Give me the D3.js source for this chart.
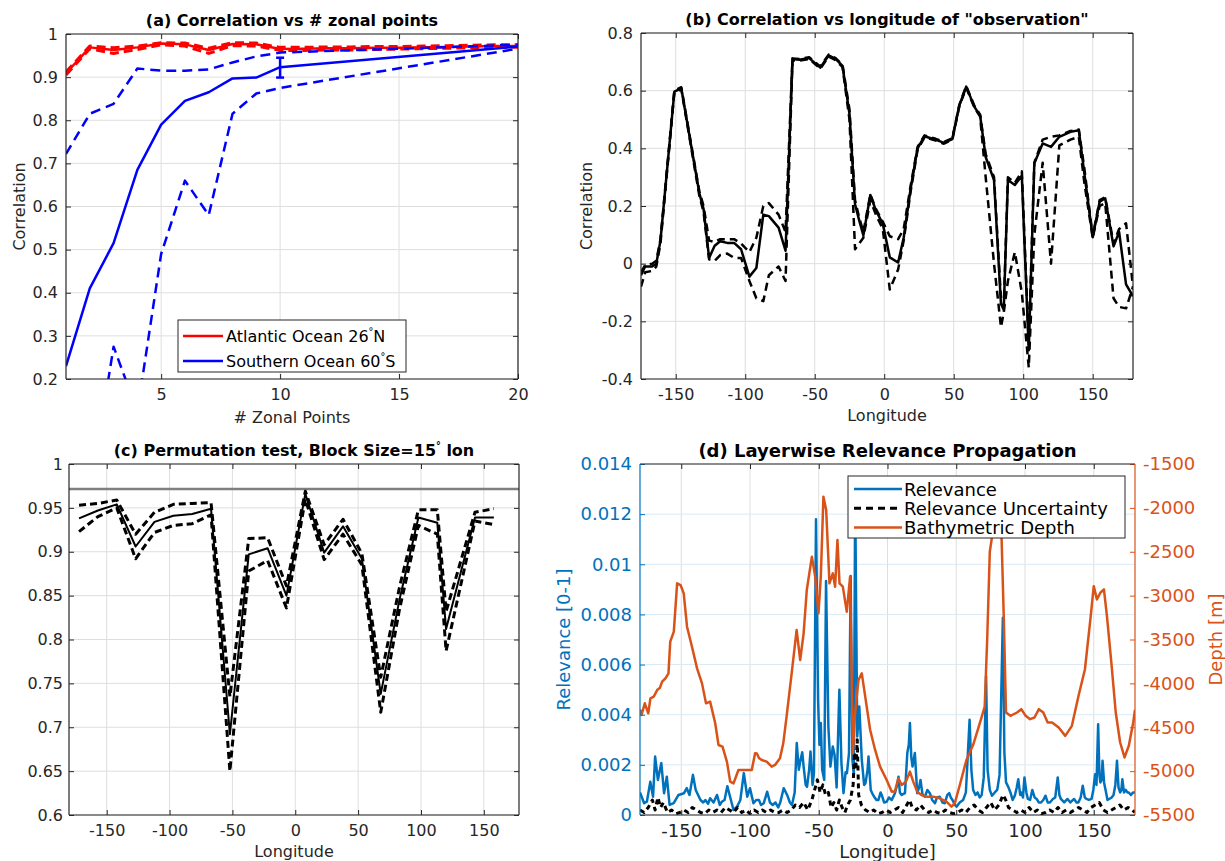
<!DOCTYPE html>
<html>
<head>
<meta charset="utf-8">
<title>Correlation and relevance panels</title>
<script src="https://cdn.jsdelivr.net/npm/d3@7/dist/d3.min.js"></script>
<style>
  body { margin: 0; background: #fff; }
  text { font-family: "DejaVu Sans", sans-serif; }
</style>
</head>
<body>
<div id="fig"></div>
<script>
// ---------- (a) correlation vs number of zonal points ----------
var zonalX = [1, 2, 3, 4, 5, 6, 7, 8, 9, 10, 11, 12, 13, 14, 15, 16, 17, 18, 19, 20];
var atlMean = [0.909, 0.969, 0.963, 0.969, 0.978, 0.976, 0.963, 0.977, 0.976, 0.965, 0.966, 0.967, 0.967, 0.968, 0.968, 0.969, 0.970, 0.971, 0.972, 0.972];
var atlHi   = [0.912, 0.972, 0.968, 0.972, 0.980, 0.979, 0.967, 0.980, 0.979, 0.969, 0.969, 0.970, 0.970, 0.971, 0.971, 0.972, 0.973, 0.974, 0.975, 0.975];
var atlLo   = [0.905, 0.966, 0.955, 0.964, 0.975, 0.972, 0.955, 0.973, 0.972, 0.962, 0.962, 0.963, 0.963, 0.964, 0.965, 0.966, 0.967, 0.968, 0.969, 0.969];
var soX    = [1, 2, 3, 4, 5, 6, 7, 8, 9, 10, 20];
var soMean = [0.23, 0.41, 0.515, 0.685, 0.79, 0.845, 0.865, 0.897, 0.899, 0.923, 0.971];
var soHi   = [0.722, 0.815, 0.838, 0.92, 0.915, 0.915, 0.918, 0.934, 0.948, 0.957, 0.975];
var soLo   = [-0.2, -0.07, 0.275, 0.125, 0.49, 0.66, 0.58, 0.815, 0.862, 0.875, 0.966];
var soErrX = [10], soErrLo = [0.899], soErrHi = [0.945];
var xTicksA = [5, 10, 15, 20];
var yTicksA = [0.2, 0.3, 0.4, 0.5, 0.6, 0.7, 0.8, 0.9, 1];

// ---------- (b) correlation vs longitude of observation ----------
var lonB = [-175, -172, -167, -164, -161, -151, -146, -133, -130, -126,
            -122, -118, -113, -108, -103, -97, -92, -87, -83, -76,
            -71, -66, -61, -54, -46, -40, -35, -30, -25, -21,
            -18, -15, -10, -6, -1, 4, 10, 14, 19, 24,
            29, 37, 43, 49, 54, 59, 65, 69, 73, 79,
            84, 86, 89, 94, 99, 104, 108, 114, 120, 126,
            134, 140, 144, 150, 155, 159, 165, 169, 174, 179];
var corrB = [-0.04, -0.01, -0.01, 0.0, 0.08, 0.597, 0.608, 0.244, 0.19, 0.02,
             0.062, 0.078, 0.072, 0.072, 0.05, -0.045, -0.015, 0.17, 0.165, 0.125,
             0.045, 0.71, 0.707, 0.713, 0.68, 0.722, 0.71, 0.686, 0.52, 0.206,
             0.15, 0.098, 0.238, 0.185, 0.138, 0.022, 0.004, 0.09, 0.26, 0.4,
             0.442, 0.43, 0.419, 0.432, 0.548, 0.614, 0.543, 0.514, 0.37, 0.29,
             -0.14, -0.16, 0.29, 0.273, 0.305, -0.3, 0.348, 0.417, 0.405, 0.44,
             0.457, 0.463, 0.313, 0.092, 0.215, 0.227, 0.06, 0.11, -0.072, -0.113];
var corrBHi = [-0.03, -0.005, 0.0, 0.01, 0.085, 0.6, 0.612, 0.25, 0.2, 0.08,
               0.075, 0.085, 0.085, 0.085, 0.07, 0.04, 0.09, 0.2, 0.21, 0.17,
               0.11, 0.712, 0.71, 0.716, 0.684, 0.725, 0.713, 0.69, 0.535, 0.22,
               0.16, 0.11, 0.24, 0.19, 0.145, 0.095, 0.085, 0.12, 0.27, 0.405,
               0.445, 0.433, 0.422, 0.435, 0.55, 0.616, 0.546, 0.517, 0.38, 0.3,
               -0.12, -0.15, 0.3, 0.28, 0.32, -0.28, 0.35, 0.43, 0.44, 0.445,
               0.46, 0.465, 0.33, 0.095, 0.22, 0.23, 0.07, 0.12, 0.14, -0.08];
var corrBLo = [-0.08, -0.03, -0.025, -0.01, 0.07, 0.595, 0.605, 0.235, 0.18, 0.015,
               0.01, 0.03, 0.035, 0.02, 0.02, -0.06, -0.12, -0.13, -0.04, -0.01,
               -0.06, 0.705, 0.704, 0.71, 0.676, 0.718, 0.706, 0.682, 0.5, 0.05,
               0.07, 0.09, 0.22, 0.17, 0.12, -0.09, -0.02, 0.08, 0.25, 0.395,
               0.438, 0.427, 0.416, 0.43, 0.545, 0.61, 0.54, 0.51, 0.3, 0.0,
               -0.22, -0.17, -0.06, 0.04, -0.1, -0.36, 0.1, 0.35, 0.0, 0.41,
               0.43, 0.44, 0.28, 0.09, 0.2, 0.21, -0.12, -0.15, -0.155, -0.08];
var lonTicks = [-150, -100, -50, 0, 50, 100, 150];
var yTicksB = [-0.4, -0.2, 0, 0.2, 0.4, 0.6, 0.8];

// ---------- (c) permutation test ----------
var lonC = [-172, -157, -142, -127, -112, -97, -82, -67, -52, -37, -22, -7, 8, 23, 38, 53, 68, 83, 98, 113, 120, 143, 158];
var permMean = [0.938, 0.947, 0.954, 0.906, 0.934, 0.941, 0.943, 0.949, 0.692, 0.897, 0.904, 0.85, 0.966, 0.899, 0.929, 0.892, 0.738, 0.846, 0.939, 0.933, 0.812, 0.939, 0.939];
var permHi   = [0.953, 0.955, 0.959, 0.92, 0.945, 0.954, 0.955, 0.956, 0.735, 0.915, 0.916, 0.861, 0.969, 0.908, 0.937, 0.898, 0.757, 0.86, 0.948, 0.948, 0.832, 0.945, 0.949];
var permLo   = [0.923, 0.94, 0.95, 0.892, 0.922, 0.93, 0.932, 0.942, 0.65, 0.878, 0.89, 0.836, 0.96, 0.891, 0.92, 0.885, 0.717, 0.835, 0.93, 0.92, 0.787, 0.935, 0.931];
var permRef = 0.9715;
var yTicksC = [0.6, 0.65, 0.7, 0.75, 0.8, 0.85, 0.9, 0.95, 1];

// ---------- (d) layerwise relevance propagation ----------
var relLon = [-180, -177, -175, -172.5, -170.5, -169, -167, -164.5, -162.5, -160.5,
  -158.5, -155.5, -152, -148, -146, -144, -141.5, -139.5, -136, -134,
  -132.5, -130.5, -129, -126.5, -124, -122, -120.5, -118.5, -116.5, -114.5,
  -112, -109.5, -107, -104.5, -102, -100, -97.5, -95.5, -93.5, -92,
  -90, -87.5, -85.5, -83.5, -81.5, -79.5, -78, -75.5, -73, -71,
  -69.5, -67.5, -66, -64.5, -63.5, -62, -61, -59.5, -58.5, -57,
  -56, -54.5, -53.5, -52, -50.5, -49.5, -48.5, -47.5, -46, -44.7,
  -43, -41.5, -39.8, -38.5, -37, -35, -33.5, -32, -30.5, -29.5,
  -28, -26.8, -25.5, -24.5, -23.5, -22, -20.5, -18.7, -17, -16,
  -14.5, -13.8, -12.2, -10.5, -9.7, -8, -6.6, -5, -4.2, -2.5,
  -0.6, 1, 3.1, 5.4, 7, 8, 9, 10.3, 12.7, 14.4,
  15.5, 16.3, 17.3, 18.2, 19.9, 21.6, 23, 24, 25.5, 27.2,
  29, 30.8, 32.5, 34.5, 36, 38, 40, 41.7, 43.5, 44.9,
  46, 47.3, 49, 50.2, 52.5, 55, 57, 58.5, 59.7, 61,
  62.3, 64, 65.5, 67.1, 68.5, 70, 71.7, 72.8, 74.4, 76,
  78, 79.8, 81.5, 83.9, 85, 86.2, 88, 89.4, 91, 92.6,
  94, 95.1, 96.5, 97.3, 98.5, 99.6, 101, 102.1, 103.7, 105.3,
  107, 108.5, 110, 111.7, 113.3, 114.9, 116.5, 118.1, 120.3, 122,
  123.8, 125, 126.1, 128.5, 130.9, 133, 135.7, 137.5, 138.8, 140.5,
  142, 143.5, 144.6, 146.5, 148.4, 149.7, 151, 152, 153.2, 154.1,
  154.8, 155.7, 156.4, 157.5, 158.6, 160, 161.2, 163, 164.4, 165.7,
  166.9, 168, 169.2, 170.1, 170.8, 172, 173.3, 174.5, 175.5, 177,
  178.7, 180];
var relVal = [0.0009, 0.00047, 0.00053, 0.00133, 0.00073, 0.00233, 0.0014, 0.00207, 0.00087, 0.00153,
  0.0004, 0.00047, 0.0008, 0.00087, 0.00107, 0.0008, 0.0016, 0.001, 0.0006, 0.0005,
  0.0006, 0.00045, 0.00067, 0.0005, 0.0008, 0.0004, 0.00053, 0.0006, 0.00115, 0.00073,
  0.0002, 0.00033, 0.0006, 0.00167, 0.00073, 0.00107, 0.00047, 0.0006, 0.0006, 0.0004,
  0.00047, 0.00093, 0.0005, 0.0004, 0.0005, 0.0003, 0.0005, 0.00107, 0.0008, 0.0005,
  0.0004, 0.0009, 0.00287, 0.0018, 0.00213, 0.0025, 0.00193, 0.0012, 0.00113, 0.0018,
  0.00253, 0.0012, 0.00167, 0.0118, 0.0046, 0.0028, 0.00367, 0.0018, 0.0014, 0.00933,
  0.00353, 0.00193, 0.00273, 0.0024, 0.0011, 0.005, 0.00207, 0.00087, 0.0017, 0.00167,
  0.00247, 0.00953, 0.0022, 0.0016, 0.0127, 0.00313, 0.00433, 0.0022, 0.0012, 0.00127,
  0.0018, 0.00233, 0.001, 0.0008, 0.00073, 0.0006, 0.0006, 0.0009, 0.0008, 0.0005,
  0.00053, 0.0007, 0.0006, 0.00087, 0.0012, 0.00153, 0.0009, 0.0008, 0.00087, 0.00247,
  0.0028, 0.00367, 0.0023, 0.00193, 0.00247, 0.00087, 0.0011, 0.0014, 0.0008, 0.00073,
  0.001, 0.00087, 0.0006, 0.00047, 0.0007, 0.00073, 0.0005, 0.00047, 0.0008, 0.00087,
  0.0007, 0.0006, 0.0004, 0.00033, 0.0005, 0.0006, 0.0009, 0.0025, 0.0038, 0.0018,
  0.001, 0.0008, 0.0009, 0.0007, 0.0008, 0.0015, 0.00553, 0.0018, 0.001, 0.00077,
  0.0009, 0.001, 0.0016, 0.00787, 0.0025, 0.0013, 0.0011, 0.0009, 0.0006, 0.00077,
  0.0011, 0.00143, 0.0008, 0.0009, 0.0007, 0.0015, 0.0009, 0.00064, 0.0006, 0.001,
  0.0007, 0.00064, 0.0005, 0.0005, 0.0006, 0.00077, 0.0005, 0.0005, 0.00064, 0.0007,
  0.0015, 0.0008, 0.00064, 0.0005, 0.00064, 0.0005, 0.00064, 0.0005, 0.0005, 0.0007,
  0.00117, 0.0007, 0.00064, 0.0006, 0.00064, 0.001, 0.00163, 0.0012, 0.00362, 0.0016,
  0.0013, 0.0014, 0.00216, 0.0013, 0.001, 0.0006, 0.00064, 0.0007, 0.0008, 0.0012,
  0.00216, 0.0011, 0.0009, 0.001, 0.00143, 0.0009, 0.001, 0.0009, 0.0009, 0.0008,
  0.0009, 0.0009];
var uncLon = [-180, -177, -174, -171, -169, -167, -165, -163, -160, -157, -154, -151, -148, -145, -142,
  -139, -136, -133, -130, -127, -124, -121, -118, -115, -112, -109, -106, -103, -100, -97,
  -94, -91, -88, -85, -82, -79, -76, -73, -70, -67, -64, -61, -58, -55, -53,
  -51, -49, -47, -45, -43, -41, -39, -37, -35, -33, -31, -29, -27, -25, -24,
  -23, -22, -21, -19, -16, -13, -10, -7, -4, -1, 2, 5, 8, 11, 14,
  16, 18, 21, 24, 27, 30, 33, 36, 39, 42, 45, 48, 51, 54, 57,
  60, 63, 66, 69, 72, 75, 78, 81, 84, 86, 88, 91, 94, 97, 100,
  103, 106, 109, 112, 115, 118, 121, 124, 127, 130, 133, 136, 139, 142, 145,
  148, 151, 154, 157, 160, 163, 166, 169, 172, 175, 178, 180];
var uncVal = [0.0002, 0.0001, 0.0003, 0.0006, 0.0002, 0.0007, 0.0003, 0.0005, 0.0001, 0.0002, 0.00005, 0.0001, 0.0002, 0.0001, 0.0003,
  0.0002, 0.0001, 0.00005, 0.0002, 0.0001, 0.0002, 0.0001, 0.0003, 0.0002, 0.0001, 0.0003, 0.0001, 0.0002, 0.00005, 0.0002,
  0.0001, 0.0002, 0.0001, 0.0002, 0.0001, 0.0001, 0.0002, 0.0001, 0.0002, 0.0004, 0.0003, 0.0005, 0.0002, 0.0006, 0.001,
  0.0014, 0.0009, 0.0012, 0.0008, 0.0009, 0.0003, 0.0005, 0.0002, 0.0006, 0.0003, 0.0001, 0.0004, 0.0006, 0.0012, 0.0025,
  0.0018, 0.003, 0.0008, 0.0004, 0.0002, 0.0001, 0.0002, 0.00005, 0.0001, 0.0002, 0.0001, 0.0002, 0.0003, 0.0001, 0.0004,
  0.0006, 0.0003, 0.0002, 0.0004, 0.0002, 0.0001, 0.0002, 0.0001, 0.00005, 0.0002, 0.0001, 0.00005, 0.0001, 0.0002, 0.0001,
  0.0003, 0.0004, 0.0002, 0.0001, 0.0003, 0.0005, 0.0002, 0.0004, 0.0008, 0.0006, 0.0003, 0.0002, 0.0001, 0.0002, 0.0001,
  0.0003, 0.0001, 0.0002, 0.00005, 0.0001, 0.0002, 0.0001, 0.0003, 0.0001, 0.0002, 0.0001, 0.0002, 0.0003, 0.0002, 0.0001,
  0.0003, 0.0004, 0.0005, 0.0002, 0.0001, 0.0002, 0.0003, 0.0004, 0.0002, 0.0003, 0.0002, 0.0001];
var depLon = [-180, -178.9, -176.5, -174, -172.4, -170, -167.5, -165.5, -163.9, -161.5,
  -159.3, -158, -155.4, -153, -150.5, -148.2, -145.8, -142.2, -138.5, -134.9,
  -132, -129, -125.3, -122.9, -120, -116.8, -114.4, -112, -108.4, -104.8,
  -101.2, -98.7, -96.3, -95, -93.5, -91.5, -87.9, -84.2, -81.8, -78.2,
  -75.8, -73.4, -69.7, -66.1, -64.5, -63.5, -61, -58.7, -55, -52.6,
  -50.2, -48.5, -46.6, -44.6, -42.2, -39.8, -38.1, -36.4, -34.9, -32.5,
  -29.6, -27.2, -25.2, -23.6, -21.1, -18.7, -16.2, -12.6, -9, -5.4,
  -0.6, 3.1, 5.4, 7.9, 10.3, 13.4, 16.3, 18.7, 21.6, 24.7,
  28.4, 33.2, 38, 42.9, 46.5, 48.9, 52.6, 57.4, 62.3, 67.1,
  70.7, 72.5, 74.4, 76, 78, 80, 82, 83, 84.6, 86.2,
  89.4, 94.2, 97.3, 100.5, 103.7, 106.9, 110.1, 113.3, 116.5, 119.7,
  124.5, 129.3, 134.1, 138.9, 143.6, 147.8, 150, 152.3, 154.8, 157.4,
  159.6, 162.8, 166, 169.2, 172.4, 175.5, 178.7, 180];
var depVal = [-4300, -4360, -4227, -4341, -4170, -4151, -4075, -4050, -3980, -3942,
  -3886, -3525, -3411, -2860, -2879, -2974, -3354, -3582, -3829, -4000,
  -4227, -4208, -4455, -4702, -4721, -4892, -5120, -5139, -4987, -4987,
  -4987, -4987, -4797, -4800, -4850, -4873, -4892, -4949, -4930, -4854,
  -4683, -4379, -3886, -3392, -3600, -3734, -3430, -2936, -2556, -2784,
  -3202, -2784, -1872, -2024, -2860, -2746, -2898, -2366, -2860, -2898,
  -3183, -2784, -4797, -4341, -3962, -3886, -4151, -4531, -4759, -4949,
  -5101, -5234, -5230, -5082, -5158, -5120, -5006, -5120, -5234, -5272,
  -5291, -5291, -5310, -5348, -5405, -5367, -5158, -4873, -4700, -4455,
  -4265, -3500, -2500, -2330, -2250, -2150, -2200, -2361, -3270, -4332,
  -4370, -4332, -4294, -4370, -4408, -4389, -4294, -4332, -4446, -4446,
  -4503, -4598, -4484, -4143, -3839, -3233, -2892, -3043, -2967, -2929,
  -3233, -3764, -4332, -4674, -4844, -4711, -4446, -4300];
var relTicks = [0, 0.002, 0.004, 0.006, 0.008, 0.01, 0.012, 0.014];
var depTicks = [-5500, -5000, -4500, -4000, -3500, -3000, -2500, -2000, -1500];
var legendD = ["Relevance", "Relevance Uncertainty", "Bathymetric Depth"];

// ---------- drawing ----------
var W = 1225, H = 861;
var ink = "#262626";
var blue = "#0072BD", orange = "#D95319";
var svg = d3.select("#fig").append("svg").attr("width", W).attr("height", H)
    .style("background", "#fff");
svg.append("rect").attr("width", W).attr("height", H).attr("fill", "#fff");

function pairs(xs, ys) { return xs.map(function (v, i) { return [v, ys[i]]; }); }
var fmt = function (d) { return String(d); };

function makeAxes(name, box, xDomain, yDomain, xTicks, yTicks, gridY) {
    var x = d3.scaleLinear().domain(xDomain).range([box.l, box.r]);
    var y = d3.scaleLinear().domain(yDomain).range([box.b, box.t]);
    var g = svg.append("g").attr("class", name);
    svg.append("clipPath").attr("id", "clip-" + name).append("rect")
        .attr("x", box.l).attr("y", box.t).attr("width", box.r - box.l).attr("height", box.b - box.t);
    g.append("g").selectAll("line").data(xTicks).join("line")
        .attr("x1", x).attr("x2", x).attr("y1", box.t).attr("y2", box.b)
        .attr("stroke", "#dedede").attr("stroke-width", 1);
    g.append("g").selectAll("line").data(yTicks).join("line")
        .attr("y1", y).attr("y2", y).attr("x1", box.l).attr("x2", box.r)
        .attr("stroke", gridY || "#dedede").attr("stroke-width", 1);
    var plot = g.append("g").attr("clip-path", "url(#clip-" + name + ")");
    return { x: x, y: y, g: g, plot: plot, box: box, xTicks: xTicks, yTicks: yTicks };
}

function styleAxis(sel, color, fs) {
    sel.attr("font-size", fs).attr("font-family", "DejaVu Sans");
    sel.select(".domain").remove();
    sel.selectAll(".tick line").attr("stroke", color);
    sel.selectAll(".tick text").attr("fill", color);
}

function finishAxes(ax, o) {
    var b = ax.box, g = ax.g.append("g");
    var fs = o.fs;
    g.append("g").attr("transform", "translate(0," + b.b + ")")
        .call(d3.axisBottom(ax.x).tickValues(ax.xTicks).tickFormat(fmt)
            .tickSizeInner(-5).tickSizeOuter(0).tickPadding(o.xPad))
        .call(styleAxis, ink, fs);
    g.append("g").attr("transform", "translate(0," + b.t + ")")
        .call(d3.axisTop(ax.x).tickValues(ax.xTicks).tickFormat(function () { return ""; })
            .tickSizeInner(-5).tickSizeOuter(0))
        .call(styleAxis, ink, fs);
    var lc = o.leftColor || ink;
    g.append("g").attr("transform", "translate(" + b.l + ",0)")
        .call(d3.axisLeft(ax.y).tickValues(ax.yTicks).tickFormat(fmt)
            .tickSizeInner(-5).tickSizeOuter(0).tickPadding(o.yPad))
        .call(styleAxis, lc, fs);
    if (o.rightScale) {
        g.append("g").attr("transform", "translate(" + b.r + ",0)")
            .call(d3.axisRight(o.rightScale).tickValues(o.rightTicks).tickFormat(fmt)
                .tickSizeInner(-5).tickSizeOuter(0).tickPadding(o.yPad))
            .call(styleAxis, o.rightColor, fs);
    } else {
        g.append("g").attr("transform", "translate(" + b.r + ",0)")
            .call(d3.axisRight(ax.y).tickValues(ax.yTicks).tickFormat(function () { return ""; })
                .tickSizeInner(-5).tickSizeOuter(0))
            .call(styleAxis, ink, fs);
    }
    // frame
    g.append("line").attr("x1", b.l).attr("x2", b.r).attr("y1", b.t).attr("y2", b.t).attr("stroke", ink).attr("stroke-width", 1.2);
    g.append("line").attr("x1", b.l).attr("x2", b.r).attr("y1", b.b).attr("y2", b.b).attr("stroke", ink).attr("stroke-width", 1.2);
    g.append("line").attr("x1", b.l).attr("x2", b.l).attr("y1", b.t).attr("y2", b.b).attr("stroke", lc).attr("stroke-width", 1.2);
    g.append("line").attr("x1", b.r).attr("x2", b.r).attr("y1", b.t).attr("y2", b.b)
        .attr("stroke", o.rightColor || ink).attr("stroke-width", 1.2);
}

function drawLine(ax, xs, ys, color, width, dash, yScale) {
    var ys2 = yScale || ax.y;
    ax.plot.append("path").datum(pairs(xs, ys))
        .attr("d", d3.line().x(function (d) { return ax.x(d[0]); }).y(function (d) { return ys2(d[1]); }))
        .attr("fill", "none").attr("stroke", color).attr("stroke-width", width)
        .attr("stroke-dasharray", dash || null).attr("stroke-linejoin", "round");
}

function title(ax, parts, fs, yOff) {
    var t = ax.g.append("text").attr("x", (ax.box.l + ax.box.r) / 2).attr("y", ax.box.t - yOff)
        .attr("text-anchor", "middle").attr("font-size", fs).attr("font-weight", "bold").attr("fill", "#000");
    supText(t, parts, fs);
}

function supText(t, parts, fs) {
    parts.forEach(function (p) {
        if (p.sup) {
            t.append("tspan").attr("dy", -fs * 0.45).attr("font-size", fs * 0.6).text(p.text);
        } else {
            t.append("tspan").attr("dy", p.after ? fs * 0.45 : 0).text(p.text);
        }
    });
}

function xLabel(ax, text, fs, off) {
    ax.g.append("text").attr("x", (ax.box.l + ax.box.r) / 2).attr("y", ax.box.b + off)
        .attr("text-anchor", "middle").attr("font-size", fs).attr("fill", ink).text(text);
}
function yLabel(ax, text, fs, xPos, color) {
    ax.g.append("text").attr("transform", "translate(" + xPos + "," + (ax.box.t + ax.box.b) / 2 + ") rotate(-90)")
        .attr("text-anchor", "middle").attr("font-size", fs).attr("fill", color || ink).text(text);
}

// ----- panel (a)
var A = makeAxes("a", { l: 66, r: 518, t: 34, b: 379 }, [1, 20], [0.2, 1], xTicksA, yTicksA);
drawLine(A, zonalX, atlLo, "#ff0000", 3, "9,5");
drawLine(A, zonalX, atlHi, "#ff0000", 3, "9,5");
drawLine(A, zonalX, atlMean, "#ff0000", 2.5);
drawLine(A, soX, soHi, "#0000ff", 2.5, "10,6");
drawLine(A, soX, soLo, "#0000ff", 2.5, "10,6");
drawLine(A, soX, soMean, "#0000ff", 2.5);
var errA = A.plot.append("g").selectAll("g").data(soErrX).join("g");
errA.append("line").attr("x1", function (d) { return A.x(d); }).attr("x2", function (d) { return A.x(d); })
    .attr("y1", function (d, i) { return A.y(soErrLo[i]); }).attr("y2", function (d, i) { return A.y(soErrHi[i]); })
    .attr("stroke", "#0000ff").attr("stroke-width", 2.5);
[soErrLo, soErrHi].forEach(function (arr) {
    errA.append("line").attr("x1", function (d) { return A.x(d) - 4; }).attr("x2", function (d) { return A.x(d) + 4; })
        .attr("y1", function (d, i) { return A.y(arr[i]); }).attr("y2", function (d, i) { return A.y(arr[i]); })
        .attr("stroke", "#0000ff").attr("stroke-width", 2.5);
});
finishAxes(A, { fs: 16, xPad: 10, yPad: 8 });
title(A, [{ text: "(a) Correlation vs # zonal points" }], 16, 8);
xLabel(A, "# Zonal Points", 16, 44);
yLabel(A, "Correlation", 16, 25);
// legend (a)
var legA = [
    { parts: [{ text: "Atlantic Ocean 26" }, { text: "°", sup: true }, { text: "N", after: true }], color: "#ff0000" },
    { parts: [{ text: "Southern Ocean 60" }, { text: "°", sup: true }, { text: "S", after: true }], color: "#0000ff" }
];
var lgA = A.g.append("g");
lgA.append("rect").attr("x", 178).attr("y", 320).attr("width", 228).attr("height", 52)
    .attr("fill", "#fff").attr("stroke", ink).attr("stroke-width", 1);
legA.forEach(function (e, i) {
    var yy = 336 + i * 25;
    lgA.append("line").attr("x1", 183).attr("x2", 223).attr("y1", yy).attr("y2", yy)
        .attr("stroke", e.color).attr("stroke-width", 2.5);
    var t = lgA.append("text").attr("x", 226).attr("y", yy + 6).attr("font-size", 16).attr("fill", "#000");
    supText(t, e.parts, 16);
});

// ----- panel (b)
var B = makeAxes("b", { l: 641, r: 1133, t: 33, b: 379 }, [-175, 179], [-0.4, 0.8], lonTicks, yTicksB);
drawLine(B, lonB, corrBHi, "#000", 2.5, "8,5");
drawLine(B, lonB, corrBLo, "#000", 2.5, "8,5");
drawLine(B, lonB, corrB, "#000", 2.5);
finishAxes(B, { fs: 16, xPad: 10, yPad: 8 });
title(B, [{ text: "(b) Correlation vs longitude of \"observation\"" }], 16, 8);
xLabel(B, "Longitude", 16, 42);
yLabel(B, "Correlation", 16, 592);

// ----- panel (c)
var C = makeAxes("c", { l: 69, r: 519, t: 464, b: 815 }, [-180, 178], [0.6, 1], lonTicks, yTicksC);
C.plot.append("line").datum(permRef)
    .attr("x1", C.box.l).attr("x2", C.box.r).attr("y1", C.y).attr("y2", C.y)
    .attr("stroke", "#7f7f7f").attr("stroke-width", 2.5);
drawLine(C, lonC, permHi, "#000", 3, "7,4");
drawLine(C, lonC, permLo, "#000", 3, "7,4");
drawLine(C, lonC, permMean, "#000", 2);
finishAxes(C, { fs: 16, xPad: 10, yPad: 6 });
title(C, [{ text: "(c) Permutation test, Block Size=15" }, { text: "°", sup: true }, { text: " lon", after: true }], 16, 8);
xLabel(C, "Longitude", 16, 42);

// ----- panel (d)
var D = makeAxes("d", { l: 640, r: 1135, t: 464, b: 815 }, [-180, 180], [0, 0.014], lonTicks, relTicks, "#d9eaf5");
var yDepth = d3.scaleLinear().domain([-5500, -1500]).range([D.box.b, D.box.t]);
drawLine(D, relLon, relVal, blue, 2.5);
drawLine(D, uncLon, uncVal, "#000", 3, "5,4");
drawLine(D, depLon, depVal, orange, 2.5, null, yDepth);
finishAxes(D, { fs: 18, xPad: 9, yPad: 8, leftColor: blue, rightScale: yDepth, rightTicks: depTicks, rightColor: orange });
title(D, [{ text: "(d) Layerwise Relevance Propagation" }], 18, 7);
xLabel(D, "Longitude]", 18, 43);
yLabel(D, "Relevance [0-1]", 18, 570, blue);
yLabel(D, "Depth [m]", 18, 1222, orange);
// legend (d)
var legStyle = [{ c: blue, d: null }, { c: "#000", d: "7,5" }, { c: orange, d: null }];
var lgD = D.g.append("g");
lgD.append("rect").attr("x", 848).attr("y", 476).attr("width", 277).attr("height", 62)
    .attr("fill", "#fff").attr("stroke", ink).attr("stroke-width", 1);
legendD.forEach(function (name, i) {
    var yy = 489 + i * 19.3;
    lgD.append("line").attr("x1", 854).attr("x2", 902).attr("y1", yy).attr("y2", yy)
        .attr("stroke", legStyle[i].c).attr("stroke-width", i === 1 ? 3 : 2.5)
        .attr("stroke-dasharray", legStyle[i].d);
    lgD.append("text").attr("x", 904).attr("y", yy + 6.5).attr("font-size", 18).attr("fill", "#000").text(name);
});
</script>
</body>
</html>
